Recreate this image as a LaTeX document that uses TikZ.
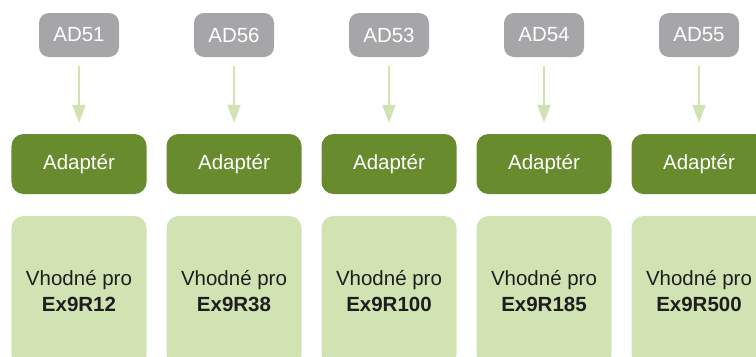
\documentclass[tikz,border=0pt]{standalone}
\usepackage{fontspec}
\setmainfont{Liberation Sans}
\usetikzlibrary{arrows.meta}
\definecolor{tagGray}{RGB}{166,166,168}
\definecolor{adGreen}{RGB}{104,139,46}
\definecolor{paleGreen}{RGB}{209,227,179}
\definecolor{txtDark}{RGB}{30,30,30}
\tikzset{
  tagbox/.style={fill=tagGray, rounded corners=10bp, minimum width=80bp, minimum height=44bp,
    inner sep=0pt, text=white, font=\fontsize{20.5bp}{25bp}\selectfont},
  adbox/.style={fill=adGreen, rounded corners=12bp, minimum width=135bp, minimum height=60bp,
    inner sep=0pt, text=white, font=\fontsize{20.5bp}{25bp}\selectfont},
  fitbox/.style={fill=paleGreen, rounded corners=12bp, minimum width=135bp, minimum height=150bp,
    inner sep=0pt, text=txtDark, align=center, font=\fontsize{20.5bp}{25.5bp}\selectfont},
  flow/.style={draw=paleGreen, line width=2bp, -{Triangle[width=13bp,length=18bp]},
    shorten <=9bp, shorten >=11bp}
}
\begin{document}
\begin{tikzpicture}[x=1bp,y=-1bp]
\useasboundingbox (0,0) rectangle (756,356);
\clip (0,0) rectangle (756,356);
\foreach \i/\cx/\tag/\model in {1/79/AD51/Ex9R12, 2/234/AD56/Ex9R38, 3/389/AD53/Ex9R100, 4/544/AD54/Ex9R185, 5/699/AD55/Ex9R500}{
  \node[tagbox] (g\i) at (\cx,35) {\tag};
  \node[adbox] (a\i) at (\cx,164) {Adaptér};
  \node[fitbox] (b\i) at (\cx,291) {Vhodné pro\\\textbf{\model}};
  \draw[flow] (g\i.south) -- (a\i.north);
}
\end{tikzpicture}
\end{document}
